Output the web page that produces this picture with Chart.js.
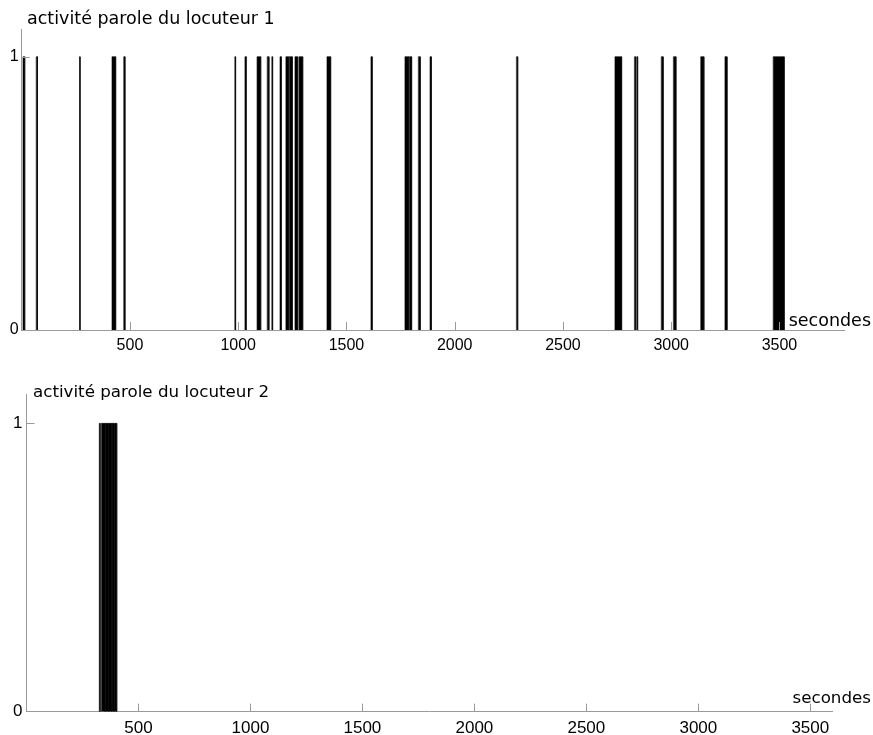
<!DOCTYPE html>
<html>
<head>
<meta charset="utf-8">
<script src="https://cdn.jsdelivr.net/npm/chart.js@4.4.1/dist/chart.umd.min.js"></script>
<style>
  body { margin: 0; background: #fff; }
  .wrap { position: absolute; left: 0; width: 873px; }
</style>
</head>
<body>
<div class="wrap" style="top:0"><canvas id="spk1" width="873" height="365"></canvas></div>
<div class="wrap" style="top:365px"><canvas id="spk2" width="873" height="370"></canvas></div>
<script>
// tick labels
const xTicks = [500, 1000, 1500, 2000, 2500, 3000, 3500];
const yTicks = [0, 1];

// speech segments, seconds (start / end)
const spk1Start = [6, 67, 267, 417, 471, 984, 1031, 1087, 1134, 1155, 1193, 1220, 1236, 1262, 1281, 1410, 1613, 1770, 1790, 1832, 1886, 2285, 2740, 2830, 2840, 2954, 3010, 3136, 3248, 3471];
const spk1End   = [14, 73, 270, 434, 477, 988, 1037, 1104, 1142, 1159, 1199, 1233, 1250, 1275, 1298, 1427, 1619, 1787, 1801, 1841, 1892, 2291, 2771, 2835, 2845, 2963, 3022, 3151, 3258, 3522];

const spk2Start = [325, 334, 354, 368, 382, 394];
const spk2End   = [329, 352, 366, 380, 392, 403];

// one closed shape per segment, gaps between them
function toPoints(starts, ends) {
    const pts = [];
    starts.forEach((s, i) => {
        pts.push({x: s, y: 0}, {x: s, y: 1}, {x: ends[i], y: 1}, {x: ends[i], y: 0}, {x: ends[i], y: null});
    });
    return pts;
}

const axisGrey = '#9a9a9a';

// inward tick marks + titles
const decor = {
    id: 'decor',
    afterDatasetsDraw(chart, args, o) {
        const {ctx, chartArea: a, scales: {x, y}} = chart;
        ctx.save();
        ctx.strokeStyle = axisGrey;
        ctx.lineWidth = 1;
        ctx.beginPath();
        xTicks.forEach(v => {
            const px = Math.round(x.getPixelForValue(v)) + 0.5;
            ctx.moveTo(px, a.bottom);
            ctx.lineTo(px, a.bottom - 8);
        });
        const py = Math.round(y.getPixelForValue(1)) + 0.5;
        ctx.moveTo(a.left, py);
        ctx.lineTo(a.left + 8, py);
        ctx.stroke();

        ctx.fillStyle = '#000';
        ctx.font = o.font;
        ctx.textBaseline = 'alphabetic';
        ctx.textAlign = 'left';
        ctx.fillText(o.title, o.titleX, o.titleY);
        ctx.textAlign = 'right';
        ctx.fillText('secondes', chart.width - 2, o.unitY);
        ctx.restore();
    }
};

function makeChart(id, starts, ends, cfg) {
    return new Chart(document.getElementById(id), {
        type: 'line',
        data: {
            datasets: [{
                data: toPoints(starts, ends),
                borderColor: '#000',
                backgroundColor: '#000',
                borderWidth: 0.6,
                pointRadius: 0,
                fill: 'origin',
                tension: 0,
                spanGaps: false
            }]
        },
        options: {
            responsive: false,
            animation: false,
            events: [],
            layout: { padding: { top: cfg.top, right: cfg.right, left: 0, bottom: 0 } },
            plugins: {
                legend: { display: false },
                tooltip: { enabled: false },
                decor: cfg.decor
            },
            scales: {
                x: {
                    type: 'linear',
                    min: 0,
                    max: cfg.xMax,
                    grid: { display: false, drawTicks: false },
                    border: { display: true, color: axisGrey, width: 1 },
                    ticks: { color: '#000', padding: cfg.xPad, maxRotation: 0,
                             font: { family: 'Liberation Sans', size: cfg.tickSize },
                             callback: v => String(v) },
                    afterBuildTicks: s => { s.ticks = xTicks.map(v => ({value: v})); },
                    afterFit: s => { s.height = cfg.xHeight; }
                },
                y: {
                    type: 'linear',
                    min: 0,
                    max: 1.1,
                    grid: { display: false, drawTicks: false },
                    border: { display: true, color: axisGrey, width: 1 },
                    ticks: { color: '#000', padding: cfg.yPad,
                             font: { family: 'Liberation Sans', size: cfg.tickSize },
                             callback: v => String(v) },
                    afterBuildTicks: s => { s.ticks = yTicks.map(v => ({value: v})); },
                    afterFit: s => { s.width = cfg.yWidth; }
                }
            }
        },
        plugins: [decor]
    });
}

makeChart('spk1', spk1Start, spk1End, {
    top: 29.4, right: 28.6, xMax: 3800, xHeight: 35, yWidth: 21.7,
    xPad: 5.5, yPad: 3, tickSize: 16,
    decor: { title: 'activité parole du locuteur 1', titleX: 27, titleY: 24,
             unitY: 325.5, font: '17.5px "DejaVu Sans"' }
});

makeChart('spk2', spk2Start, spk2End, {
    top: 29.5, right: 40.3, xMax: 3600, xHeight: 23.3, yWidth: 26.5,
    xPad: 6.5, yPad: 4, tickSize: 17,
    decor: { title: 'activité parole du locuteur 2', titleX: 33, titleY: 32.3,
             unitY: 337.7, font: '16.7px "DejaVu Sans"' }
});
</script>
</body>
</html>
